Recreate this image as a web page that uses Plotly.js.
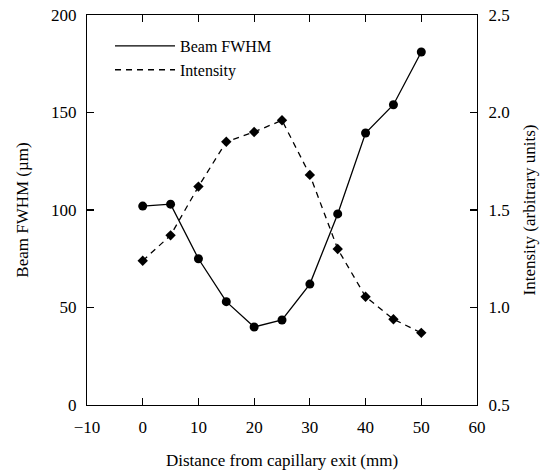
<!DOCTYPE html>
<html>
<head>
<meta charset="utf-8">
<script src="https://cdn.plot.ly/plotly-3.0.1.min.js"></script>
<style>html,body{margin:0;padding:0;background:#fff;}</style>
</head>
<body>
<div id="chart" style="width:544px;height:470px;"></div>
<script>
// Data
var distance = [0, 5, 10, 15, 20, 25, 30, 35, 40, 45, 50];           // mm
var beamFWHM = [102, 103, 75, 53, 40, 43.6, 62, 98, 139.5, 154, 181]; // µm
var intensity = [1.24, 1.37, 1.62, 1.85, 1.90, 1.96, 1.68, 1.30, 1.055, 0.94, 0.87]; // arb. units

var fontFam = '"Liberation Serif", "Times New Roman", serif';

var traces = [
  {x: distance, y: beamFWHM, mode: 'lines', name: 'Beam FWHM',
   line: {color: '#000', width: 1.3}, yaxis: 'y', showlegend: true},
  {x: distance, y: beamFWHM, mode: 'markers', name: 'Beam FWHM',
   marker: {color: '#000', size: 9, symbol: 'circle'}, yaxis: 'y', showlegend: false},
  {x: distance, y: intensity, mode: 'lines', name: 'Intensity',
   line: {color: '#000', width: 1.3, dash: '6px,5px'}, yaxis: 'y2', showlegend: true},
  {x: distance, y: intensity, mode: 'markers', name: 'Intensity',
   marker: {color: '#000', size: 8, symbol: 'diamond'}, yaxis: 'y2', showlegend: false}
];

var axisCommon = {
  showline: true, linecolor: '#000', linewidth: 1.2,
  ticks: 'inside', ticklen: 7, tickwidth: 1.2, tickcolor: '#000',
  showgrid: false, zeroline: false,
  tickfont: {family: fontFam, size: 17, color: '#000'}
};
var titleFont = {family: fontFam, size: 17, color: '#000'};

var layout = {
  width: 544, height: 470,
  margin: {l: 87, r: 67, t: 15, b: 65},
  paper_bgcolor: '#fff', plot_bgcolor: '#fff',
  font: {family: fontFam, color: '#000'},
  showlegend: true,
  legend: {x: 0.059, y: 0.964, xanchor: 'left', yanchor: 'top',
           bgcolor: 'rgba(0,0,0,0)', font: {family: fontFam, size: 16, color: '#000'},
           itemwidth: 60},
  xaxis: Object.assign({}, axisCommon, {
    range: [-10, 60], dtick: 10, tick0: 0, mirror: 'ticks', ticklabelstandoff: 6,
    title: {text: 'Distance from capillary exit (mm)', font: titleFont, standoff: 18}
  }),
  yaxis: Object.assign({}, axisCommon, {
    range: [0, 200], dtick: 50, ticklabelstandoff: 6,
    title: {text: 'Beam FWHM (µm)', font: titleFont, standoff: 18}
  }),
  yaxis2: Object.assign({}, axisCommon, {
    range: [0.5, 2.5], dtick: 0.5, tickformat: '.1f', ticklabelstandoff: 7,
    overlaying: 'y', side: 'right',
    title: {text: 'Intensity (arbitrary units)', font: titleFont, standoff: 14}
  })
};

Plotly.newPlot('chart', traces, layout, {displayModeBar: false, staticPlot: true});
</script>
</body>
</html>
